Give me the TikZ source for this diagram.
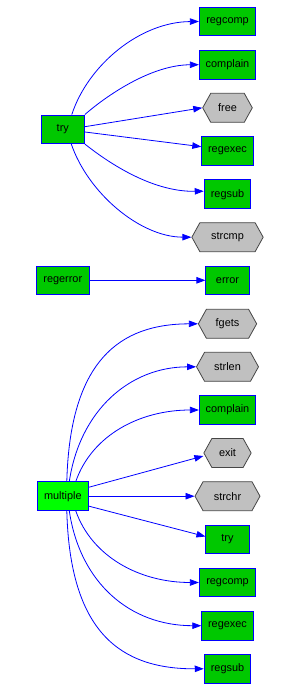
\documentclass[tikz,border=0pt]{standalone}
\usepackage{fontspec}
\setmainfont{Liberation Sans}
\usetikzlibrary{shapes.symbols,arrows.meta}
\definecolor{gfill}{RGB}{0,200,0}
\definecolor{mfill}{RGB}{0,255,0}
\definecolor{hfill}{RGB}{192,192,192}
\definecolor{hdraw}{RGB}{70,70,70}
\tikzset{
  fn/.style={draw=blue, line width=0.8pt, fill=gfill, minimum height=28.7pt, inner sep=0pt, font=\fontsize{10.9}{13}\selectfont},
  hx/.style={signal, signal to=west and east, signal pointer angle=122, draw=hdraw, line width=0.8pt, fill=hfill, minimum height=29pt, inner sep=0pt, font=\fontsize{10.9}{13}\selectfont},
  ed/.style={draw=blue, line width=0.8pt, -{Triangle[length=9pt,width=6.5pt]}}
}
\begin{document}
\begin{tikzpicture}[x=1pt,y=-1pt]
\useasboundingbox (0,0) rectangle (294,692);
% upper group
\node[fn, minimum width=43.3pt] (try) at (62.8,129.3) {try};
\node[fn, minimum width=56.4pt] (regcomp1) at (227.5,21.5) {regcomp};
\node[fn, minimum width=56.4pt] (complain1) at (227.5,64.7) {complain};
\node[hx, minimum width=49.6pt] (free) at (227.5,107.8) {free};
\node[fn, minimum width=51.6pt] (regexec1) at (227.5,150.7) {regexec};
\node[fn, minimum width=46.7pt] (regsub1) at (227.5,194.2) {regsub};
\node[hx, minimum width=71.3pt] (strcmp) at (227.5,237.2) {strcmp};
% middle
\node[fn, minimum width=52.3pt] (regerror) at (62.8,280.3) {regerror};
\node[fn, minimum width=43.3pt] (error) at (227.5,280.3) {error};
% lower group
\node[fn, fill=mfill, minimum width=51.7pt] (multiple) at (62.8,496.2) {multiple};
\node[hx, minimum width=58.3pt] (fgets) at (227.5,323.8) {fgets};
\node[hx, minimum width=62pt] (strlen) at (227.5,366.8) {strlen};
\node[fn, minimum width=56.4pt] (complain2) at (227.5,410) {complain};
\node[hx, minimum width=47.3pt] (exit) at (227.5,453) {exit};
\node[hx, minimum width=65pt] (strchr) at (227.5,496.2) {strchr};
\node[fn, minimum width=43.3pt] (try2) at (227.5,539.5) {try};
\node[fn, minimum width=56.4pt] (regcomp2) at (227.5,582.5) {regcomp};
\node[fn, minimum width=51.6pt] (regexec2) at (227.5,625.7) {regexec};
\node[fn, minimum width=46.7pt] (regsub2) at (227.5,668.8) {regsub};
% edges from try
\draw[ed] ([xshift=9pt]try.north) .. controls (88,65) and (140,22) .. (regcomp1.west);
\draw[ed] (try.north east) .. controls (105,97) and (150,65) .. (complain1.west);
\draw[ed] ([yshift=2.6pt]try.east) -- (free.west);
\draw[ed] ([yshift=-2.7pt]try.east) -- ([yshift=4pt]regexec1.west);
\draw[ed] (try.south east) .. controls (105,160) and (150,192) .. ([yshift=3pt]regsub1.west);
\draw[ed] ([xshift=8.5pt]try.south) .. controls (88,193) and (140,237) .. (strcmp.west);
% regerror
\draw[ed] (regerror) -- (error);
% edges from multiple
\draw[ed] ([xshift=4pt]multiple.north) .. controls (70,360) and (120,324) .. (fgets.west);
\draw[ed] ([xshift=6.5pt]multiple.north) .. controls (80,410) and (130,367) .. (strlen.west);
\draw[ed] ([xshift=13pt]multiple.north) .. controls (92,435) and (140,410) .. (complain2.west);
\draw[ed] ([yshift=9pt]multiple.east) -- ([yshift=-3pt]exit.west);
\draw[ed] (multiple.east) -- (strchr.west);
\draw[ed] ([yshift=-10pt]multiple.east) -- ([yshift=3pt]try2.west);
\draw[ed] ([xshift=13pt]multiple.south) .. controls (92,557) and (140,582.5) .. (regcomp2.west);
\draw[ed] ([xshift=6.5pt]multiple.south) .. controls (80,583) and (130,625.7) .. (regexec2.west);
\draw[ed] ([xshift=4pt]multiple.south) .. controls (70,632) and (120,669) .. (regsub2.west);
\end{tikzpicture}
\end{document}
